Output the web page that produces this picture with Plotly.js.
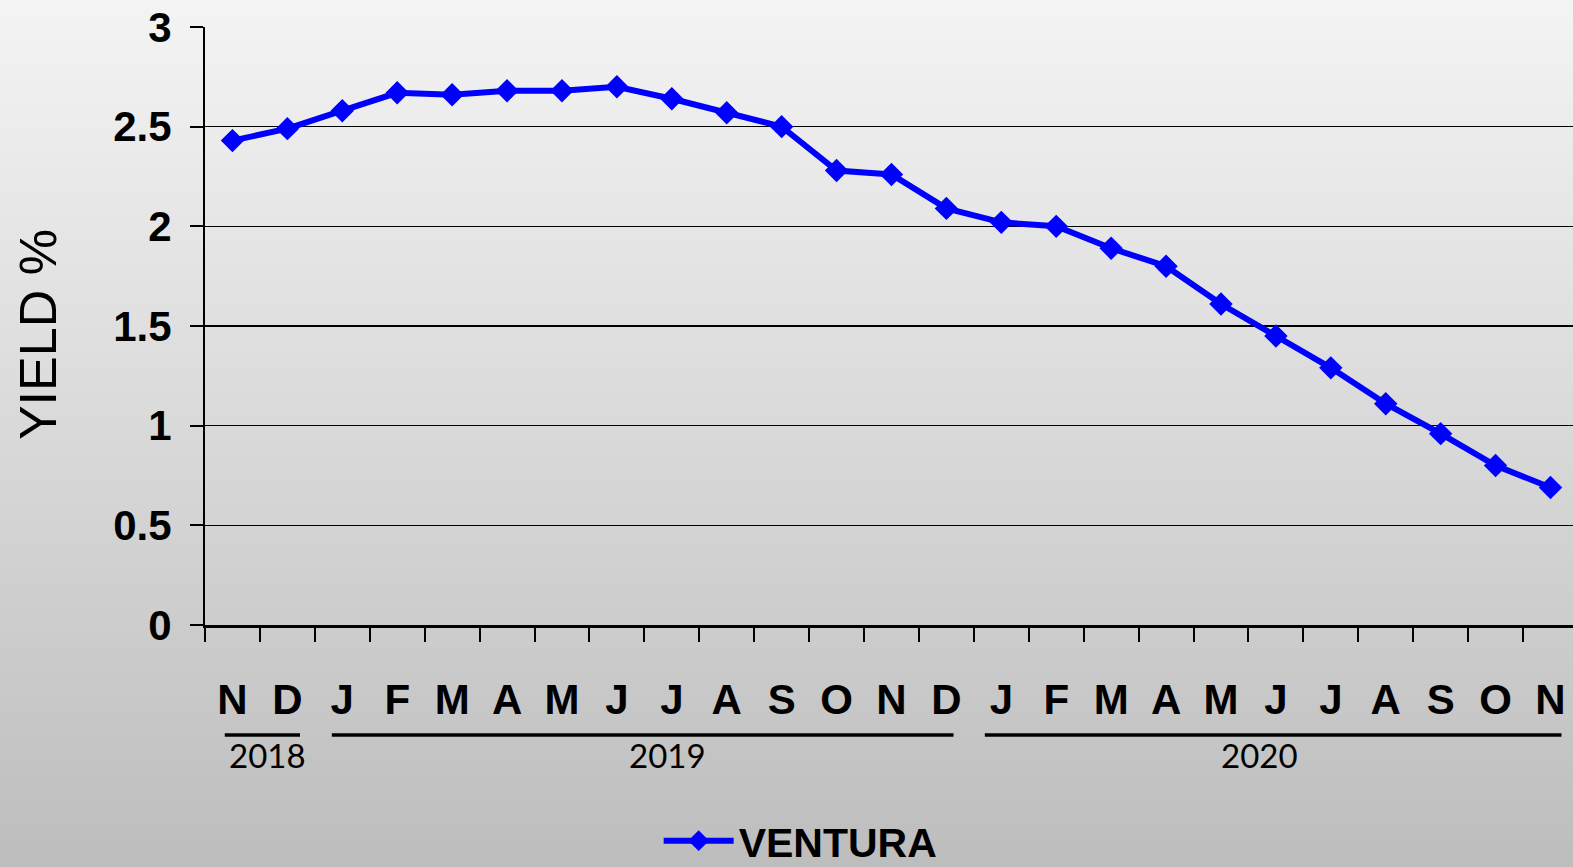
<!DOCTYPE html>
<html>
<head>
<meta charset="utf-8">
<script src="https://cdn.plot.ly/plotly-3.0.1.min.js"></script>
<style>
  html, body { margin: 0; padding: 0; width: 1573px; height: 867px; overflow: hidden;
    background: linear-gradient(to bottom, #f4f4f4 0%, #d9d9d9 50%, #bdbdbd 100%); }
  #chart { width: 1573px; height: 867px; }
</style>
</head>
<body>
<div id="chart"></div>
<script>
// Data
const monthLabels = ["N","D","J","F","M","A","M","J","J","A","S","O","N","D","J","F","M","A","M","J","J","A","S","O","N"];
const yieldValues = [2.43, 2.49, 2.58, 2.67, 2.66, 2.68, 2.68, 2.70, 2.64, 2.57, 2.50, 2.28, 2.26, 2.09, 2.02, 2.00, 1.89, 1.80, 1.61, 1.45, 1.29, 1.11, 0.96, 0.80, 0.69];
const seriesName = "VENTURA";
const yearLabels = ["2018", "2019", "2020"];
const yTickVals = [0, 0.5, 1, 1.5, 2, 2.5, 3];
const yTickText = ["0", "0.5", "1", "1.5", "2", "2.5", "3"];

const xIdx = monthLabels.map((_, i) => i);
const boundaries = monthLabels.map((_, i) => i - 0.5);

const trace = {
  x: xIdx, y: yieldValues, name: seriesName, type: 'scatter', mode: 'lines+markers',
  line: { color: '#0000ff', width: 6 },
  marker: { symbol: 'diamond', size: 18, color: '#0000ff' },
  cliponaxis: false
};

// year bracket positions (axis units) and label centres
const yearLineStart = [-0.14, 1.81, 13.7];
const yearLineEnd = [1.23, 13.13, 24.2];
const yearLabelX = [0.63, 7.93, 18.7];

const shapes = [];
const annotations = [];
yearLabels.forEach((lab, k) => {
  shapes.push({ type: 'line', xref: 'x', yref: 'paper', x0: yearLineStart[k], x1: yearLineEnd[k], y0: -0.184, y1: -0.184,
    line: { color: '#000', width: 3.5 } });
  annotations.push({ xref: 'x', yref: 'paper', x: yearLabelX[k], y: -0.218,
    text: lab, showarrow: false, yanchor: 'middle', xanchor: 'center',
    font: { family: 'Lato, "DejaVu Sans", sans-serif', size: 33, color: '#000' } });
});
annotations.push({ xref: 'paper', yref: 'paper', x: -0.122, y: 0.485, xanchor: 'center', yanchor: 'middle',
  text: 'YIELD %', textangle: -90, showarrow: false,
  font: { family: '"Liberation Sans", Arial, sans-serif', size: 52, color: '#000' } });

const layout = {
  width: 1573, height: 867,
  paper_bgcolor: 'rgba(0,0,0,0)', plot_bgcolor: 'rgba(0,0,0,0)',
  margin: { l: 205, r: 0, t: 27, b: 242 },
  showlegend: true,
  legend: { orientation: 'h', x: 0.509, xref: 'container', xanchor: 'center', y: 0.03, yref: 'container', yanchor: 'middle',
    font: { family: '"Liberation Sans", Arial, sans-serif', size: 41, color: '#000', weight: 'bold' },
    itemwidth: 70, bgcolor: 'rgba(0,0,0,0)' },
  xaxis: {
    range: [-0.5, 24.41], showgrid: false, zeroline: false,
    showline: true, linecolor: '#000', linewidth: 2.5,
    tickmode: 'array', tickvals: xIdx, ticktext: monthLabels, ticks: '',
    ticklabelstandoff: 36,
    tickfont: { family: '"Liberation Sans", Arial, sans-serif', size: 42, color: '#000', weight: 'bold' },
    minor: { tickmode: 'array', tickvals: boundaries, ticks: 'outside', ticklen: 14, tickwidth: 2, tickcolor: '#000', showgrid: false }
  },
  yaxis: {
    range: [0, 3], showgrid: true, gridcolor: '#000', gridwidth: 1.5, zeroline: false,
    showline: true, linecolor: '#000', linewidth: 2,
    tickmode: 'array', tickvals: yTickVals, ticktext: yTickText,
    ticks: 'outside', ticklen: 13, tickwidth: 2, tickcolor: '#000',
    ticklabelstandoff: 10,
    tickfont: { family: '"Liberation Sans", Arial, sans-serif', size: 42, color: '#000', weight: 'bold' }
  },
  shapes: shapes,
  annotations: annotations
};

Plotly.newPlot('chart', [trace], layout, { displayModeBar: false, staticPlot: true });
</script>
</body>
</html>
